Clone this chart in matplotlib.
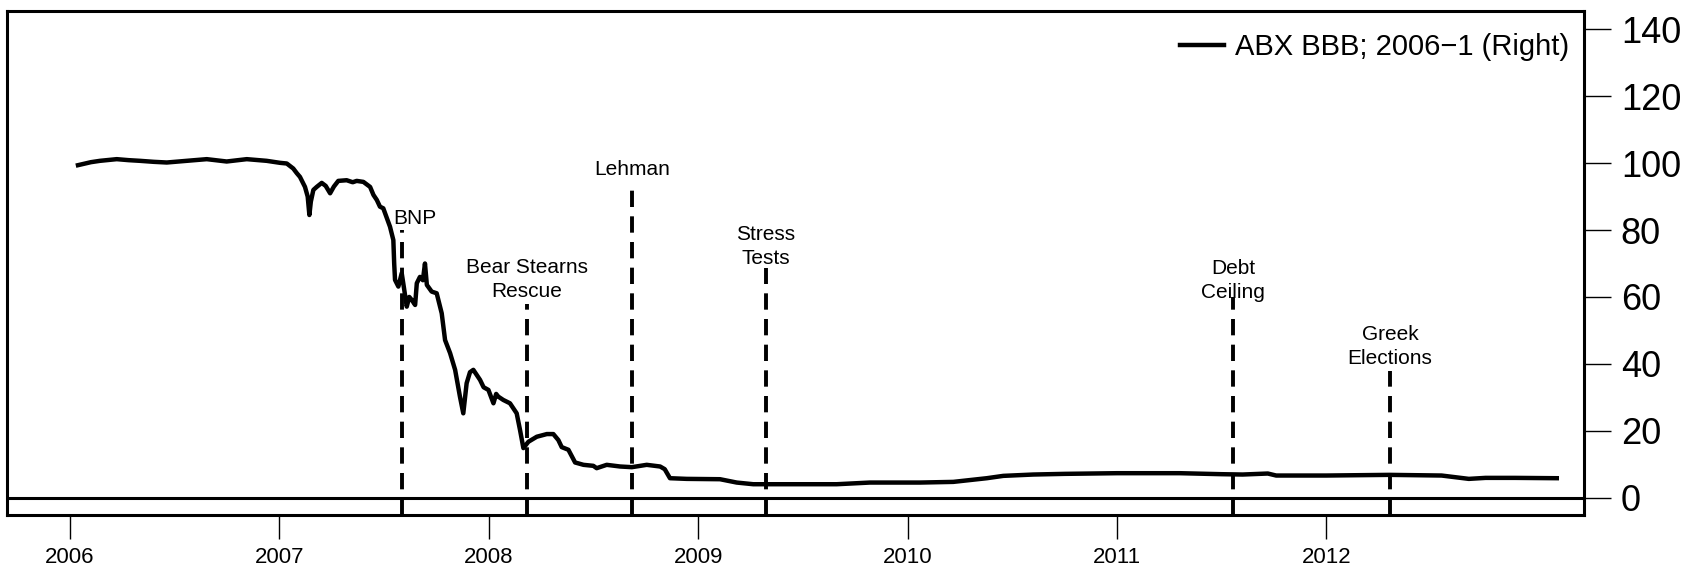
import matplotlib
matplotlib.use("Agg")
import matplotlib.pyplot as plt
import numpy as np

plt.rcParams['font.family'] = ['Liberation Sans', 'DejaVu Sans']

# ABX BBB 2006-1 price (decimal year, price)
abx_year = [2006.038, 2006.10, 2006.143, 2006.223, 2006.28, 2006.334, 2006.40, 2006.462,
            2006.557, 2006.653, 2006.748, 2006.844, 2006.939, 2007.003, 2007.035, 2007.066,
            2007.083, 2007.098, 2007.122, 2007.135, 2007.143, 2007.150, 2007.162, 2007.178,
            2007.202, 2007.221, 2007.242, 2007.260, 2007.281, 2007.321, 2007.35, 2007.369,
            2007.401, 2007.433, 2007.449, 2007.465, 2007.48, 2007.496, 2007.528, 2007.544,
            2007.548, 2007.552, 2007.568, 2007.584, 2007.595, 2007.608, 2007.62, 2007.632,
            2007.648, 2007.656, 2007.671, 2007.685, 2007.695, 2007.704, 2007.727, 2007.751,
            2007.775, 2007.791, 2007.815, 2007.839, 2007.862, 2007.878, 2007.894, 2007.910,
            2007.926, 2007.958, 2007.975, 2007.998, 2008.022, 2008.035, 2008.045, 2008.069,
            2008.101, 2008.133, 2008.149, 2008.165, 2008.189, 2008.229, 2008.277, 2008.308,
            2008.332, 2008.348, 2008.380, 2008.412, 2008.452, 2008.499, 2008.515, 2008.563,
            2008.627, 2008.683, 2008.754, 2008.818, 2008.840, 2008.865, 2008.945, 2009.104,
            2009.184, 2009.263, 2009.422, 2009.661, 2009.820, 2010.059, 2010.218, 2010.378,
            2010.457, 2010.60, 2010.75, 2011.00, 2011.30, 2011.50, 2011.60, 2011.72,
            2011.76, 2012.00, 2012.30, 2012.55, 2012.68, 2012.76, 2012.90, 2013.10]
abx_price = [99.4, 100.3, 100.7, 101.2, 100.9, 100.7, 100.4, 100.2,
             100.7, 101.2, 100.5, 101.2, 100.7, 100.1, 99.9, 98.4,
             97.0, 95.9, 92.9, 90.0, 84.5, 88.5, 92.0, 92.9,
             94.1, 93.2, 91.0, 93.0, 94.7, 94.9, 94.3, 94.7,
             94.4, 92.9, 90.5, 89.0, 87.0, 86.5, 81.0, 77.0,
             70.0, 65.1, 63.1, 67.1, 62.6, 57.1, 60.0, 59.1,
             57.6, 64.1, 66.0, 65.0, 70.0, 63.6, 61.6, 61.1,
             55.1, 47.1, 43.2, 38.2, 30.2, 25.2, 34.2, 37.5,
             38.2, 35.2, 33.0, 32.2, 28.2, 31.0, 30.2, 29.2,
             28.2, 25.2, 20.2, 14.8, 16.7, 18.2, 19.0, 19.0,
             17.2, 15.1, 14.3, 10.5, 9.8, 9.5, 8.8, 9.8,
             9.3, 9.1, 9.8, 9.3, 8.5, 5.8, 5.6, 5.5,
             4.5, 4.0, 4.0, 4.0, 4.5, 4.5, 4.7, 5.8,
             6.5, 6.9, 7.1, 7.3, 7.3, 7.0, 6.9, 7.2,
             6.6, 6.6, 6.8, 6.6, 5.6, 5.9, 5.9, 5.8]

# events: label, date of line, top of dashed line, label x, label y
event_labels = ['BNP', 'Bear Stearns\nRescue', 'Lehman', 'Stress\nTests',
                'Debt\nCeiling', 'Greek\nElections']
event_year = [2007.585, 2008.182, 2008.684, 2009.324, 2011.554, 2012.304]
event_top = [80.0, 58.0, 93.4, 68.6, 60.0, 37.8]
label_year = [2007.648, 2008.182, 2008.684, 2009.324, 2011.554, 2012.304]
label_y = [83.6, 65.2, 98.0, 75.0, 65.0, 45.2]

years = [2006, 2007, 2008, 2009, 2010, 2011, 2012]
y_ticks = [0, 20, 40, 60, 80, 100, 120, 140]

fig = plt.figure(figsize=(17.08, 5.70), dpi=100)
ax = fig.add_axes([0.0041, 0.0965, 0.9233, 0.8842])

ax.plot(abx_year, abx_price, color='black', lw=3.2, solid_joinstyle='round',
        label='ABX BBB; 2006\u22121 (Right)')
ax.axhline(0, color='black', lw=2.2)

ymin, ymax = -5.2, 145.5
for x, top in zip(event_year, event_top):
    ax.vlines(x, ymin, top, colors='black', lw=2.8, linestyles=(0, (4.2, 2.4)))
for lab, x, y in zip(event_labels, label_year, label_y):
    ax.text(x, y, lab, ha='center', va='center', fontsize=15, color='black',
            linespacing=1.35)

ax.set_xlim(2005.699, 2013.230)
ax.set_ylim(ymin, ymax)

ax.set_xticks(years)
ax.set_xticklabels([str(y) for y in years])
ax.tick_params(axis='x', direction='out', length=17, width=1, pad=6,
               labelsize=16, colors='black')

ax.yaxis.tick_right()
ax.set_yticks(y_ticks)
ax.tick_params(axis='y', direction='out', length=19.5, width=1, pad=7,
               labelsize=26, colors='black')

for s in ax.spines.values():
    s.set_linewidth(2.2)
    s.set_color('black')

leg = ax.legend(loc='upper right', bbox_to_anchor=(1.0, 0.985), frameon=False,
                fontsize=21, handlelength=1.5, handletextpad=0.4,
                borderaxespad=0.2, borderpad=0.3)

fig.savefig('out.png', dpi=100)
